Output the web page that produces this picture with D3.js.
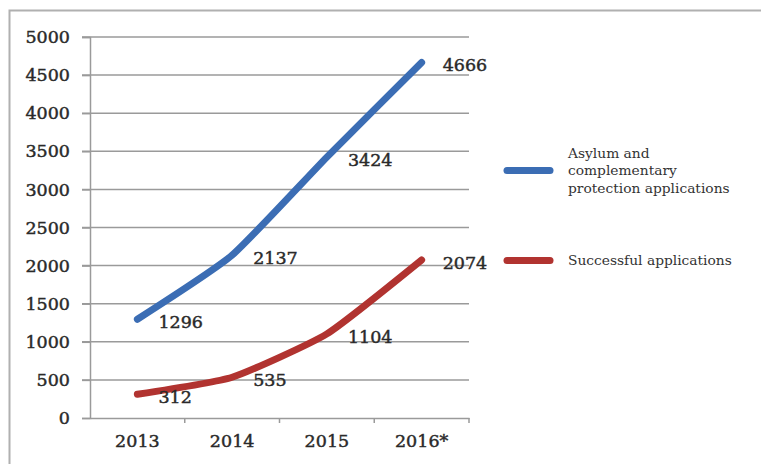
<!DOCTYPE html>
<html>
<head>
<meta charset="utf-8">
<script src="https://cdn.jsdelivr.net/npm/d3@7"></script>
<style>
  body { margin: 0; background: #fff; }
</style>
</head>
<body>
<div id="chart"></div>
<script>
// données
const years = ["2013", "2014", "2015", "2016*"];
const applications = [1296, 2137, 3424, 4666];
const successful = [312, 535, 1104, 2074];
const yTicks = [0, 500, 1000, 1500, 2000, 2500, 3000, 3500, 4000, 4500, 5000];
const seriesNames = [["Asylum and", "complementary", "protection applications"], ["Successful applications"]];
const seriesColors = ["#3b6db4", "#b13330"];

const width = 761, height = 464;
const font = "'DejaVu Serif', serif";

const svg = d3.select("#chart").append("svg")
    .attr("width", width)
    .attr("height", height);

// cadre extérieur
svg.append("path")
    .attr("d", "M9.5," + height + " V10.5 H" + width)
    .attr("fill", "none")
    .attr("stroke", "#b0b0b0")
    .attr("stroke-width", 2);

const x = d3.scaleBand().domain(years).range([90, 469]);
const y = d3.scaleLinear().domain([0, 5000]).range([418, 37]);

// texte un peu épaissi (entre normal et gras)
function styleText(sel, size) {
    sel.style("font-family", font)
        .style("font-size", size)
        .attr("fill", "#2a2a2a")
        .attr("stroke", "#2a2a2a")
        .attr("stroke-width", 0.45);
}

// grille
svg.append("g")
    .selectAll("line")
    .data(yTicks.filter(d => d > 0))
    .enter().append("line")
    .attr("x1", 82).attr("x2", 469)
    .attr("y1", d => y(d)).attr("y2", d => y(d))
    .attr("stroke", "#9a9a9a")
    .attr("stroke-width", 1.5);

// axe Y
const yAxis = svg.append("g")
    .attr("transform", "translate(90,0)")
    .call(d3.axisLeft(y).tickValues(yTicks).tickFormat(d3.format("d")).tickSize(8).tickPadding(12));
yAxis.select(".domain").attr("stroke", "#9a9a9a").attr("stroke-width", 1.5);
yAxis.selectAll(".tick line").attr("stroke", "#9a9a9a").attr("stroke-width", 1.5);
styleText(yAxis.selectAll("text"), "17.5px");

// axe X
const xAxis = svg.append("g")
    .attr("transform", "translate(0,418)")
    .call(d3.axisBottom(x).tickSize(0).tickPadding(17));
xAxis.select(".domain").attr("stroke", "#9a9a9a").attr("stroke-width", 1.5);
styleText(xAxis.selectAll("text"), "17.5px");
// petites graduations entre les catégories
svg.append("g")
    .selectAll("line")
    .data(years)
    .enter().append("line")
    .attr("x1", d => x(d) + x.bandwidth()).attr("x2", d => x(d) + x.bandwidth())
    .attr("y1", 418).attr("y2", 423)
    .attr("stroke", "#9a9a9a")
    .attr("stroke-width", 1.5);

const cx = d => x(d) + x.bandwidth() / 2;

const line = d3.line()
    .x((d, i) => cx(years[i]))
    .y(d => y(d))
    .curve(d3.curveCardinal.tension(0.5));

[applications, successful].forEach(function(values, s) {
    svg.append("path")
        .datum(values)
        .attr("d", line)
        .attr("fill", "none")
        .attr("stroke", seriesColors[s])
        .attr("stroke-width", 7)
        .attr("stroke-linecap", "round")
        .attr("stroke-linejoin", "round");

    const labels = svg.append("g")
        .selectAll("text")
        .data(values)
        .enter().append("text")
        .attr("x", (d, i) => cx(years[i]) + 21)
        .attr("y", d => y(d) + 9)
        .text(d => d);
    styleText(labels, "17.5px");
});

// légende
const legendY = [170.5, 260.5];
seriesNames.forEach(function(lines, s) {
    svg.append("line")
        .attr("x1", 507).attr("x2", 550)
        .attr("y1", legendY[s]).attr("y2", legendY[s])
        .attr("stroke", seriesColors[s])
        .attr("stroke-width", 7)
        .attr("stroke-linecap", "round");

    const t = svg.append("text")
        .style("font-family", font)
        .style("font-size", "13.8px")
        .attr("fill", "#333");
    const top = legendY[s] - (lines.length - 1) * 17.5 / 2;
    lines.forEach(function(l, i) {
        t.append("tspan")
            .attr("x", 568)
            .attr("y", top + i * 17.5 + 4.5)
            .text(l);
    });
});
</script>
</body>
</html>
